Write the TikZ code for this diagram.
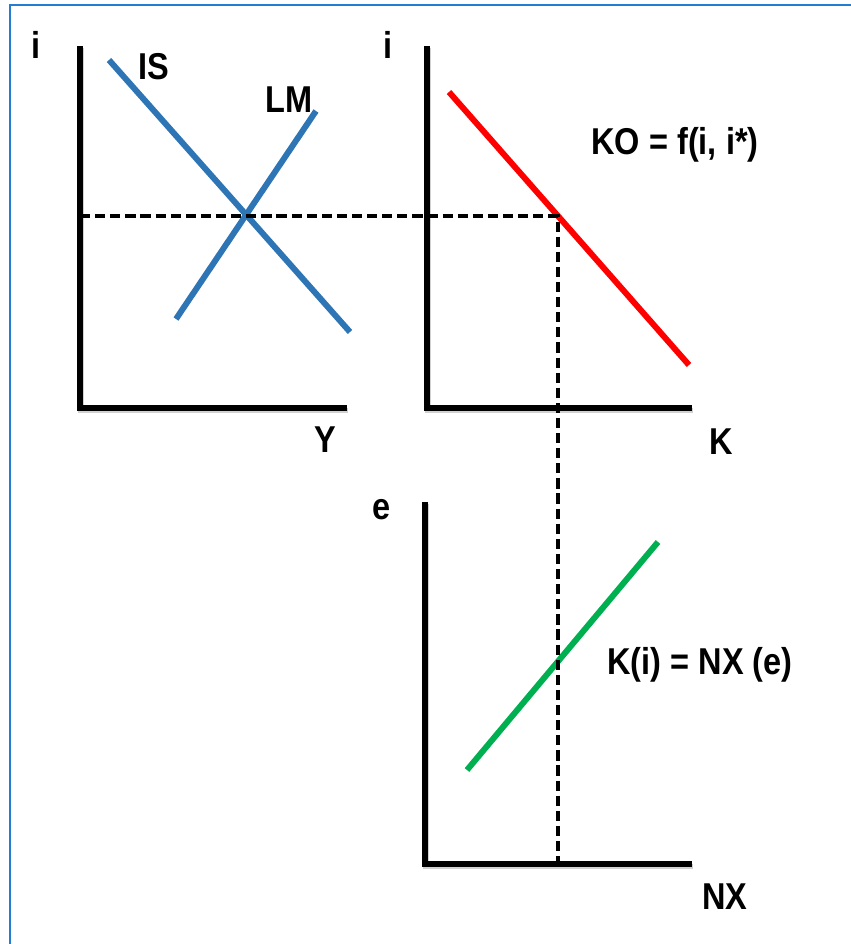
\documentclass[tikz,border=0pt]{standalone}
\usepackage{fontspec}
\setmainfont{Liberation Sans}
\usepackage{xcolor}
\definecolor{frameblue}{RGB}{35,125,210}
\definecolor{islm}{RGB}{46,117,182}
\definecolor{kored}{RGB}{255,0,0}
\definecolor{nxgreen}{RGB}{0,176,80}

\begin{document}
\begin{tikzpicture}[x=0.02cm, y=-0.02cm]
        % styles
        \tikzset{axis/.style={line width=2.9pt, black, preaction={draw=black!18, line width=3pt, transform canvas={shift={(0.6pt,-1.4pt)}}}}}
        \tikzset{curve/.style={line width=3.4pt}}
        \tikzset{guide/.style={line width=2.1pt, dash pattern=on 5.8pt off 2.8pt}}
        \tikzset{lbl/.style={font=\fontsize{18.5}{20}\selectfont\bfseries, inner sep=0pt, yscale=1.15, transform shape}}

        \useasboundingbox (0,0) rectangle (850,944);

        % 1. frame
        \draw[frameblue, line width=1.6pt] (10,950) -- (10,5) -- (855,5);

        % 2. IS-LM panel
        \coordinate (o1) at (80,408);
        \draw[axis] (80,46) -- (o1) -- (347,408);
        \node[lbl] (i1) at (36,45) {i};
        \node[lbl] (y1) at (325,440) {Y};
        \draw[curve, islm] (109,60) coordinate (is0) -- (350,332) coordinate (is1);
        \draw[curve, islm] (176,319) coordinate (lm0) -- (316,111) coordinate (lm1);
        \node[lbl] (is) at (154,67) {IS};
        \node[lbl] (lm) at (289,100) {LM};

        % 3. capital outflow panel
        \coordinate (o2) at (427,408);
        \draw[axis] (427,46) -- (o2) -- (692,408);
        \node[lbl] (i2) at (388,45) {i};
        \node[lbl] (k) at (721,442) {K};
        \draw[curve, kored] (449,92) coordinate (ko0) -- (689,365) coordinate (ko1);
        \node[lbl] (ko) at (675,145) {KO = f(i, i*)};

        % 4. net exports panel
        \coordinate (o3) at (425,864);
        \draw[axis] (425,502) -- (o3) -- (692,864);
        \node[lbl] (e) at (382,510) {e};
        \node[lbl] (nx) at (725,897) {NX};
        \draw[curve, nxgreen] (467,770) coordinate (nx0) -- (658,542) coordinate (nx1);
        \node[lbl] (knx) at (700,665) {K(i) = NX (e)};

        % 5. dashed guides
        \coordinate (eq) at (558,216);
        \draw[guide] (80,216) -- (eq) -- (558,864);
\end{tikzpicture}
\end{document}
